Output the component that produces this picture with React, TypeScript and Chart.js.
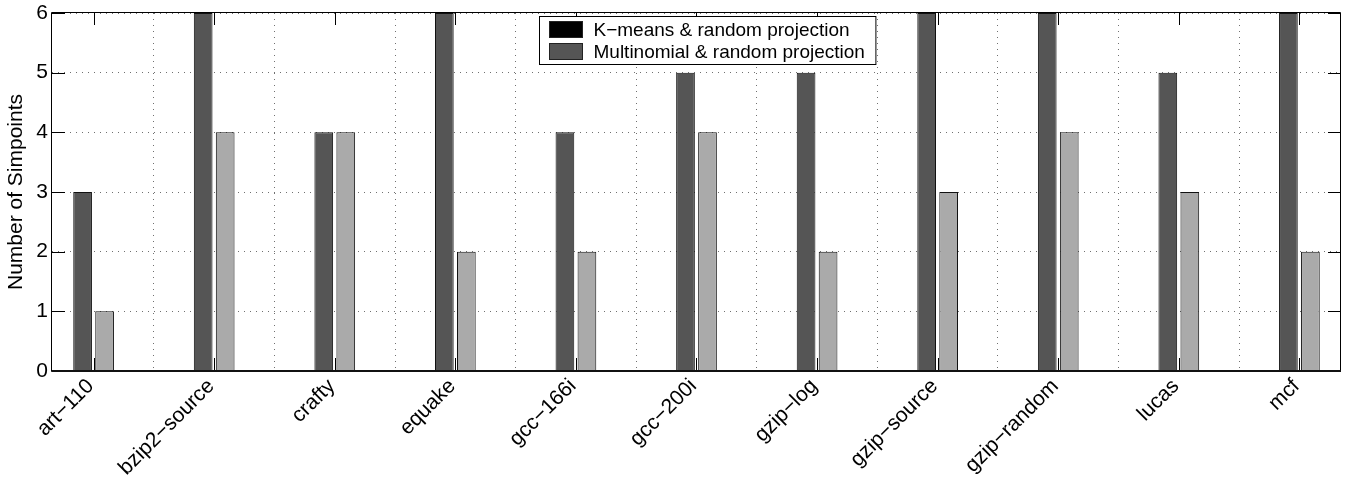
import { useEffect, useRef } from 'react';
import { Chart, registerables } from 'chart.js';

Chart.register(...registerables);

const categories = ['art−110', 'bzip2−source', 'crafty', 'equake', 'gcc−166i', 'gcc−200i', 'gzip−log', 'gzip−source', 'gzip−random', 'lucas', 'mcf'];
const darkSeries = [3, 6, 4, 6, 4, 5, 5, 6, 6, 5, 6];
const lightSeries = [1, 4, 4, 2, 2, 4, 2, 3, 4, 3, 2];
const legendLabels = ['K−means & random projection', 'Multinomial & random projection'];
const legendColors = ['#000000', '#555555'];
const yTicks = [0, 1, 2, 3, 4, 5, 6];
const yTitle = 'Number of Simpoints';

const FONT = '"Liberation Sans", Arial, Helvetica, sans-serif';
const FS = 19;
const AXIS_FS = 21;

const framePlugin = {
  id: 'matlabFrame',
  afterDatasetsDraw(chart: any) {
    const { ctx, chartArea } = chart;
    const { left, right, top, bottom } = chartArea;
    const xs = chart.scales.x;
    const ys = chart.scales.y;
    ctx.save();
    ctx.strokeStyle = '#000';
    ctx.lineWidth = 1;
    ctx.setLineDash([]);
    ctx.beginPath();
    xs.ticks.forEach((t: any) => {
      const px = Math.round(xs.getPixelForValue(t.value)) + 0.5;
      ctx.moveTo(px, bottom);
      ctx.lineTo(px, bottom - 13);
      ctx.moveTo(px, top);
      ctx.lineTo(px, top + 12);
    });
    ys.ticks.forEach((t: any) => {
      const py = Math.round(ys.getPixelForValue(t.value)) + 0.5;
      ctx.moveTo(left, py);
      ctx.lineTo(left + 13, py);
      ctx.moveTo(right, py);
      ctx.lineTo(right - 13, py);
    });
    ctx.stroke();
    ctx.beginPath();
    ctx.rect(left - 0.5, top - 0.5, right - left, bottom - top + 1);
    ctx.stroke();
    ctx.lineWidth = 2;
    ctx.strokeStyle = '#111';
    ctx.beginPath();
    ctx.moveTo(left, bottom);
    ctx.lineTo(right, bottom);
    ctx.stroke();
    ctx.restore();
  },
  afterDraw(chart: any) {
    const { ctx, chartArea } = chart;
    ctx.save();
    ctx.font = `${FS}px ${FONT}`;
    const maxW = Math.max(...legendLabels.map((l) => ctx.measureText(l).width));
    const padL = 10, swW = 33, swH = 17, gap = 11, padR = 11, rowH = 22;
    const boxW = padL + swW + gap + maxW + padR;
    const boxH = 48;
    const cx = (chartArea.left + chartArea.right) / 2 + 11;
    const bx = Math.round(cx - boxW / 2) + 0.5;
    const by = Math.round(chartArea.top + 3) + 0.5;
    ctx.fillStyle = '#fff';
    ctx.fillRect(bx, by, boxW, boxH);
    ctx.strokeStyle = '#000';
    ctx.lineWidth = 1;
    ctx.strokeRect(bx, by, boxW, boxH);
    legendLabels.forEach((label, i) => {
      const cy = by + 13 + i * rowH;
      ctx.fillStyle = legendColors[i];
      ctx.fillRect(bx + padL, Math.round(cy - swH / 2), swW, swH);
      ctx.strokeStyle = '#222';
      ctx.strokeRect(bx + padL, Math.round(cy - swH / 2) + 0.5, swW, swH - 1);
      ctx.fillStyle = '#000';
      ctx.textBaseline = 'middle';
      ctx.textAlign = 'left';
      ctx.fillText(label, bx + padL + swW + gap, cy + 1);
    });
    ctx.restore();
  },
};

export default function App() {
  const ref = useRef<HTMLCanvasElement | null>(null);
  useEffect(() => {
    if (!ref.current) return;
    const font = { family: FONT, size: AXIS_FS };
    const chart = new Chart(ref.current, {
      type: 'bar',
      data: {
        datasets: [
          {
            label: 'dark',
            data: darkSeries.map((v, i) => ({ x: i + 1, y: v })),
            backgroundColor: '#555555',
            borderColor: '#111',
            borderWidth: 1,
            barPercentage: 0.85,
            categoryPercentage: 0.365,
          },
          {
            label: 'light',
            data: lightSeries.map((v, i) => ({ x: i + 1, y: v })),
            backgroundColor: '#aaaaaa',
            borderColor: '#111',
            borderWidth: 1,
            barPercentage: 0.85,
            categoryPercentage: 0.365,
          },
        ],
      },
      options: {
        responsive: false,
        animation: false,
        layout: { padding: { top: 13, right: 10, left: 0, bottom: 0 } },
        plugins: { legend: { display: false }, tooltip: { enabled: false } },
        scales: {
          x: {
            type: 'linear',
            min: 0.655,
            max: categories.length + 0.345,
            offset: false,
            grid: { color: '#707070', lineWidth: 1, drawTicks: false },
            border: { display: false, dash: [1, 5] },
            afterBuildTicks: (s: any) => {
              s.ticks = categories.map((_, i) => ({ value: i + 1 }));
            },
            ticks: {
              autoSkip: false,
              maxRotation: 45,
              minRotation: 45,
              padding: 3,
              labelOffset: -3,
              color: '#000',
              font,
              callback: (v: any) => categories[Math.round(v) - 1] ?? '',
            },
            afterFit: (s: any) => {
              s.height = 106;
              s.paddingLeft = 0;
              s.paddingRight = 0;
            },
          },
          y: {
            min: 0,
            max: 6,
            grid: { color: '#707070', lineWidth: 1, drawTicks: false },
            border: { display: false, dash: [1, 5] },
            afterBuildTicks: (s: any) => {
              s.ticks = yTicks.map((v) => ({ value: v }));
            },
            ticks: { padding: 4, color: '#000', font },
            title: { display: true, text: yTitle, color: '#000', font, padding: { top: 4, bottom: 0 } },
            afterFit: (s: any) => {
              s.width = 52;
              s.paddingTop = 0;
              s.paddingBottom = 0;
            },
          },
        },
      },
      plugins: [framePlugin],
    } as any);
    return () => chart.destroy();
  }, []);
  return (
    <div style={{ position: 'fixed', left: 0, top: 0, background: '#fff' }}>
      <canvas ref={ref} width={1351} height={477} style={{ display: 'block' }} />
    </div>
  );
}
